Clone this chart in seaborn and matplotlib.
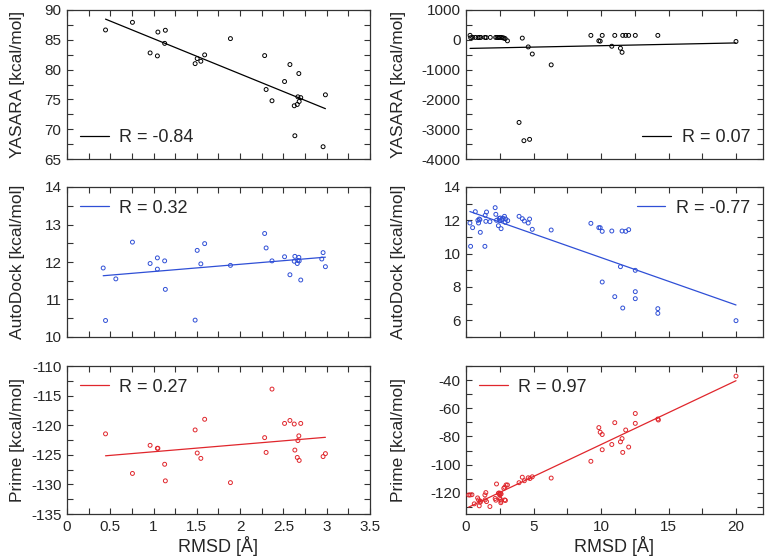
import numpy as np
import matplotlib
matplotlib.use('Agg')
import matplotlib.pyplot as plt
import seaborn as sns
from matplotlib.ticker import MultipleLocator

# ---- data ----
# left column (RMSD 0 - 3.5 A)
yas_l_x = [0.445, 0.756, 0.96, 1.044, 1.05, 1.128, 1.136, 1.48, 1.504, 1.546, 1.59, 1.888, 2.283,
           2.30, 2.368, 2.513, 2.575, 2.625, 2.632, 2.66, 2.667, 2.678, 2.682, 2.70, 2.958, 2.985]
yas_l_y = [86.65, 87.93, 82.8, 82.3, 86.3, 84.4, 86.6, 81.0, 81.85, 81.4, 82.47, 85.2, 82.35,
           76.66, 74.77, 78.0, 80.85, 73.93, 68.9, 74.15, 75.43, 79.34, 74.65, 75.3, 67.06, 75.77]

ad_l_x = [0.418, 0.445, 0.564, 0.756, 0.96, 1.044, 1.044, 1.128, 1.136, 1.48, 1.504, 1.546, 1.59,
          1.888, 2.283, 2.30, 2.368, 2.513, 2.575, 2.625, 2.632, 2.66, 2.667, 2.678, 2.682, 2.70,
          2.943, 2.958, 2.985]
ad_l_y = [11.84, 10.44, 11.55, 12.53, 11.96, 12.11, 11.81, 12.03, 11.27, 10.45, 12.31, 11.95, 12.49,
          11.91, 12.76, 12.375, 12.03, 12.14, 11.66, 12.02, 12.15, 11.96, 12.04, 12.125, 12.03, 11.52,
          12.08, 12.25, 11.875]

pr_l_x = [0.445, 0.756, 0.96, 1.044, 1.05, 1.128, 1.136, 1.48, 1.504, 1.546, 1.59, 1.888, 2.283,
          2.30, 2.368, 2.513, 2.575, 2.625, 2.632, 2.66, 2.667, 2.678, 2.682, 2.70, 2.958, 2.985]
pr_l_y = [-121.46, -128.15, -123.4, -123.9, -123.9, -126.6, -129.4, -120.8, -124.7, -125.6, -119.0,
          -129.7, -122.1, -124.6, -113.9, -119.7, -119.2, -119.8, -124.2, -125.45, -122.6, -121.8,
          -125.95, -119.7, -125.3, -124.8]

# right column (RMSD 0 - 22 A)
yas_r_x = [0.3, 0.35, 0.5, 0.7, 0.9, 1.0, 1.1, 1.4, 1.5, 1.8, 2.2, 2.3, 2.4, 2.5, 2.6, 2.7, 2.8,
           2.9, 3.07, 4.17, 4.61, 4.91, 6.31, 3.93, 4.29, 4.71, 9.25, 9.84, 9.94, 10.09, 10.8,
           11.02, 11.44, 11.56, 11.61, 11.83, 12.05, 12.54, 14.21, 20.0]
yas_r_y = [150, 70, 80, 80, 75, 80, 80, 80, 75, 80, 80, 80, 75, 80, 80, 70, 60, 40, -34, 57,
           -239, -477, -841, -2773, -3386, -3341, 148, -34, -45, 148, -216, 148, -284, -420,
           148, 148, 148, 148, 148, -57]

ad_r_x = [0.29, 0.34, 0.49, 0.69, 0.88, 0.93, 0.98, 1.03, 1.06, 1.40, 1.42, 1.47, 1.52, 1.77, 2.16,
          2.21, 2.26, 2.40, 2.45, 2.50, 2.55, 2.60, 2.65, 2.75, 2.85, 2.90, 2.94, 3.09, 3.93, 4.17,
          4.32, 4.61, 4.71, 4.91, 6.31, 9.25, 9.84, 9.94, 10.09, 10.09, 10.80, 11.02, 11.44, 11.56,
          11.61, 11.83, 12.05, 12.54, 12.54, 12.54, 14.21, 14.21, 20.0]
ad_r_y = [11.84, 10.44, 11.56, 12.52, 12.0, 11.84, 12.08, 12.04, 11.28, 10.44, 12.3, 11.94, 12.5,
          11.92, 12.76, 12.36, 12.0, 11.68, 12.12, 11.98, 12.14, 11.5, 12.04, 12.12, 12.24, 11.88,
          12.08, 11.98, 12.24, 12.1, 11.96, 11.84, 12.08, 11.46, 11.42, 11.82, 11.56, 11.56, 11.34,
          8.3, 11.36, 7.42, 9.22, 11.36, 6.74, 11.34, 11.44, 9.0, 7.72, 7.3, 6.7, 6.42, 5.98]

pr_r_x = [0.2, 0.3, 0.44, 0.61, 0.86, 0.93, 1.06, 0.98, 1.06, 1.40, 1.47, 1.42, 1.52, 1.77, 2.26,
          2.16, 2.21, 2.40, 2.45, 2.50, 2.55, 2.60, 2.50, 2.55, 2.60, 2.58, 2.80, 2.87, 2.97, 3.07,
          2.87, 2.92, 3.93, 4.17, 4.32, 4.61, 4.74, 4.91, 6.31, 9.25, 9.84, 9.94, 10.09, 10.09,
          10.80, 11.02, 11.44, 11.56, 11.61, 11.83, 12.05, 12.54, 12.54, 14.21, 14.25, 20.0]
pr_r_y = [-121.5, -121.5, -121.3, -127.8, -123.6, -125.0, -125.9, -129.2, -126.6, -121.5, -119.8,
          -125.0, -126.2, -129.7, -113.7, -124.0, -125.2, -120.3, -120.1, -121.2, -120.3, -120.8,
          -123.5, -124.7, -125.9, -127.0, -116.8, -116.0, -114.4, -114.4, -125.0, -125.4, -112.8,
          -108.9, -111.4, -109.3, -109.8, -108.6, -109.5, -97.6, -73.7, -77.0, -78.6, -89.4, -85.7,
          -70.2, -83.8, -81.5, -91.3, -75.4, -87.5, -63.7, -70.7, -67.6, -68.3, -37.2]

r_labels = ['R = -0.84', 'R = 0.07', 'R = 0.32', 'R = -0.77', 'R = 0.27', 'R = 0.97']
row_names = ['YASARA [kcal/mol]', 'AutoDock [kcal/mol]', 'Prime [kcal/mol]']
row_colors = ['black', '#2f4fd6', '#e0262c']

sns.set_style('ticks')
plt.rcParams['font.family'] = ['Liberation Sans', 'DejaVu Sans']
plt.rcParams['axes.unicode_minus'] = False

fig = plt.figure(figsize=(7.71, 5.59), dpi=100)

col_x = [(67 / 771, 303 / 771), (466 / 771, 297 / 771)]
row_y = [(1 - 159 / 559, 149 / 559), (1 - 337 / 559, 150 / 559), (1 - 514 / 559, 148 / 559)]

panels = [
    (yas_l_x, yas_l_y, (0, 3.5), (65, 90), 5, 2.5, 'lower left'),
    (yas_r_x, yas_r_y, (0, 22), (-4000, 1000), 1000, 500, 'lower right'),
    (ad_l_x, ad_l_y, (0, 3.5), (10, 14), 1, 0.5, 'upper left'),
    (ad_r_x, ad_r_y, (0, 22), (5, 14), 2, 1, 'upper right'),
    (pr_l_x, pr_l_y, (0, 3.5), (-135, -110), 5, 2.5, 'upper left'),
    (pr_r_x, pr_r_y, (0, 22), (-135, -30), 20, 10, 'upper left'),
]

for i, (xs, ys, xl, yl, ymaj, ymin, loc) in enumerate(panels):
    row, col = i // 2, i % 2
    color = row_colors[row]
    ax = fig.add_axes([col_x[col][0], row_y[row][0], col_x[col][1], row_y[row][1]])
    sns.regplot(x=np.array(xs), y=np.array(ys), ax=ax, scatter=False, ci=None,
                color=color, line_kws={'lw': 0.9}, label=r_labels[i])
    ax.scatter(xs, ys, s=8, facecolors='none', edgecolors=color, linewidths=0.7, zorder=3)
    ax.set_xlim(xl)
    ax.set_ylim(yl)
    if col == 0:
        ax.xaxis.set_major_locator(MultipleLocator(0.5))
        ax.xaxis.set_minor_locator(MultipleLocator(0.25))
    else:
        ax.xaxis.set_major_locator(MultipleLocator(5))
        ax.xaxis.set_minor_locator(MultipleLocator(2.5))
    ax.yaxis.set_major_locator(MultipleLocator(ymaj))
    ax.yaxis.set_minor_locator(MultipleLocator(ymin))
    ax.tick_params(which='both', direction='in', top=True, right=True,
                   length=4, width=0.8, color='#333333', labelsize=11, pad=4)
    if col == 0 and row == 2:
        ax.set_xticks([0, 0.5, 1, 1.5, 2, 2.5, 3, 3.5])
        ax.set_xticklabels(['0', '0.5', '1', '1.5', '2', '2.5', '3', '3.5'])
    if row < 2:
        ax.tick_params(labelbottom=False)
    else:
        ax.set_xlabel('RMSD [Å]', fontsize=13)
        ax.xaxis.set_label_coords(0.5, -0.15)
    for sp in ax.spines.values():
        sp.set_color('#333333')
        sp.set_linewidth(0.9)
    ax.set_ylabel(row_names[row], fontsize=12.5)
    if col == 0:
        ax.yaxis.set_label_coords(-0.14, 0.5)
    else:
        ax.yaxis.set_label_coords(-0.203, 0.5)
    ax.legend(loc=loc, frameon=False, fontsize=13, handlelength=1.6,
              handletextpad=0.6, borderaxespad=0.3)

plt.savefig('out.png', dpi=100)
